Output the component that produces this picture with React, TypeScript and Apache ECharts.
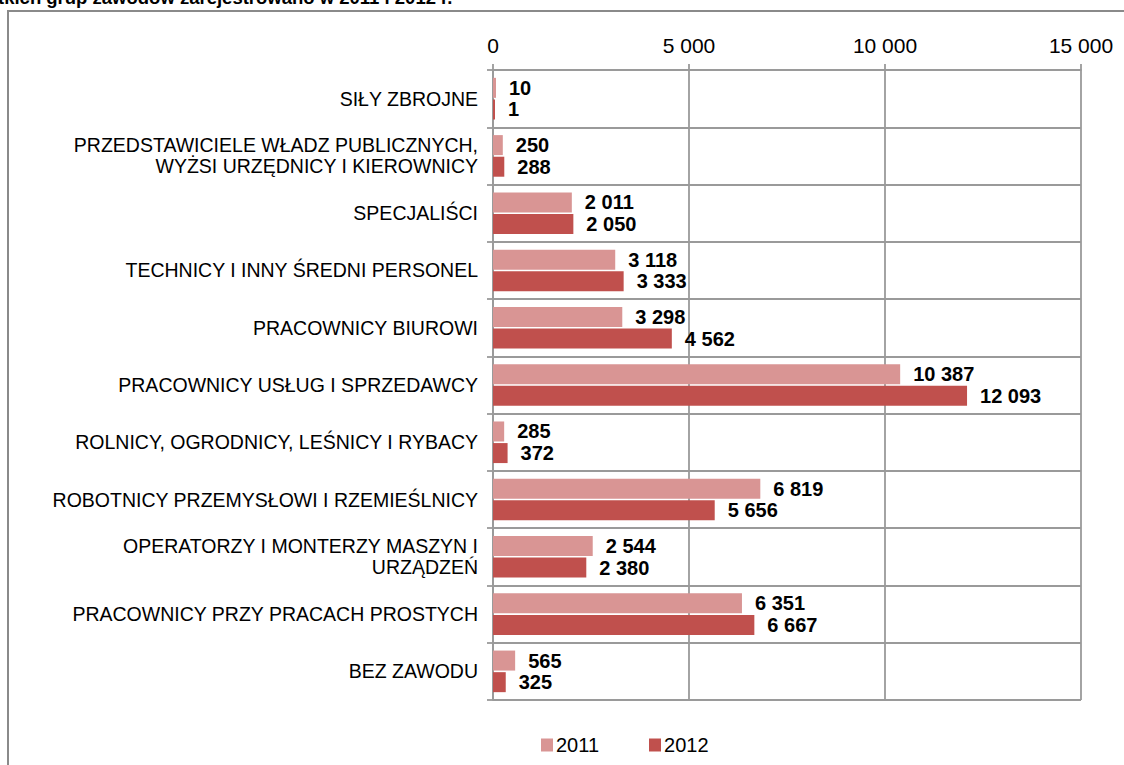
import React, { useEffect, useRef } from "react";
import * as echarts from "echarts";

const categories = [
  "SIŁY ZBROJNE",
  "PRZEDSTAWICIELE WŁADZ PUBLICZNYCH,\nWYŻSI URZĘDNICY I KIEROWNICY",
  "SPECJALIŚCI",
  "TECHNICY I INNY ŚREDNI PERSONEL",
  "PRACOWNICY BIUROWI",
  "PRACOWNICY USŁUG I SPRZEDAWCY",
  "ROLNICY, OGRODNICY, LEŚNICY I RYBACY",
  "ROBOTNICY PRZEMYSŁOWI I RZEMIEŚLNICY",
  "OPERATORZY I MONTERZY MASZYN I\nURZĄDZEŃ",
  "PRACOWNICY PRZY PRACACH PROSTYCH",
  "BEZ ZAWODU",
];
const values2011 = [10, 250, 2011, 3118, 3298, 10387, 285, 6819, 2544, 6351, 565];
const values2012 = [1, 288, 2050, 3333, 4562, 12093, 372, 5656, 2380, 6667, 325];
const seriesNames = ["2011", "2012"];
const titleText = "tkich grup zawodów zarejestrowano w 2011 i 2012 r.";

const fmt = (v: number) =>
  String(Math.round(v)).replace(/\B(?=(\d{3})+(?!\d))/g, " ");

const FONT = "'Liberation Sans', Arial, sans-serif";
const GRID = "#9a9a9a";

export default function App() {
  const ref = useRef<HTMLDivElement>(null);
  useEffect(() => {
    if (!ref.current) return;
    const chart = echarts.init(ref.current, undefined, { renderer: "svg" });
    const labelStyle = {
      show: true,
      position: "right" as const,
      distance: 13,
      formatter: (p: any) => fmt(p.value),
      color: "#000",
      fontWeight: "bold" as const,
      fontSize: 20,
      fontFamily: FONT,
    };
    chart.setOption({
      animation: false,
      textStyle: { fontFamily: FONT },
      graphic: [
        {
          type: "text",
          x: -2,
          y: 7,
          style: {
            text: titleText,
            font: `bold 18.5px ${FONT}`,
            fill: "#000",
            textVerticalAlign: "bottom",
            verticalAlign: "bottom",
          },
        },
        {
          type: "polyline",
          shape: { points: [[8, 765], [8, 11], [1124, 11]] },
          style: { stroke: "#8a8a8a", lineWidth: 2, fill: "none" },
        },
      ],
      legend: {
        data: seriesNames,
        left: 536,
        top: 730,
        itemWidth: 12,
        itemHeight: 13,
        itemGap: 50,
        icon: "rect",
        textStyle: { fontSize: 20, color: "#000", fontFamily: FONT, padding: [0, 0, 0, -2] },
      },
      grid: { left: 493, top: 70, right: 43, bottom: 65, containLabel: false },
      xAxis: {
        type: "value",
        position: "top",
        min: 0,
        max: 15000,
        interval: 5000,
        axisLine: { show: true, lineStyle: { color: GRID, width: 1.8 } },
        axisTick: { show: true, length: 6, lineStyle: { color: GRID, width: 1.8 } },
        axisLabel: {
          formatter: (v: number) => fmt(v),
          fontSize: 21,
          color: "#000",
          margin: 14,
          fontFamily: FONT,
        },
        splitLine: { show: true, lineStyle: { color: GRID, width: 1.8 } },
      },
      yAxis: {
        type: "category",
        inverse: true,
        data: categories,
        axisLine: { show: true, lineStyle: { color: GRID, width: 1.8 } },
        axisTick: { show: true, length: 6, lineStyle: { color: GRID, width: 1.8 } },
        axisLabel: {
          fontSize: 19.5,
          color: "#000",
          margin: 15,
          lineHeight: 21,
          align: "right",
          fontFamily: FONT,
        },
        splitLine: { show: true, lineStyle: { color: GRID, width: 1.8 } },
      },
      series: [
        {
          name: seriesNames[0],
          type: "bar",
          data: values2011,
          barWidth: 20,
          barGap: "8%",
          barMinHeight: 3,
          itemStyle: { color: "#D99594" },
          label: labelStyle,
        },
        {
          name: seriesNames[1],
          type: "bar",
          data: values2012,
          barWidth: 20,
          barGap: "8%",
          barMinHeight: 2,
          itemStyle: { color: "#C0504D" },
          label: labelStyle,
        },
      ],
    });
    return () => chart.dispose();
  }, []);
  return (
    <div
      ref={ref}
      style={{ position: "fixed", left: 0, top: 0, width: 1124, height: 765, background: "#fff" }}
    />
  );
}
